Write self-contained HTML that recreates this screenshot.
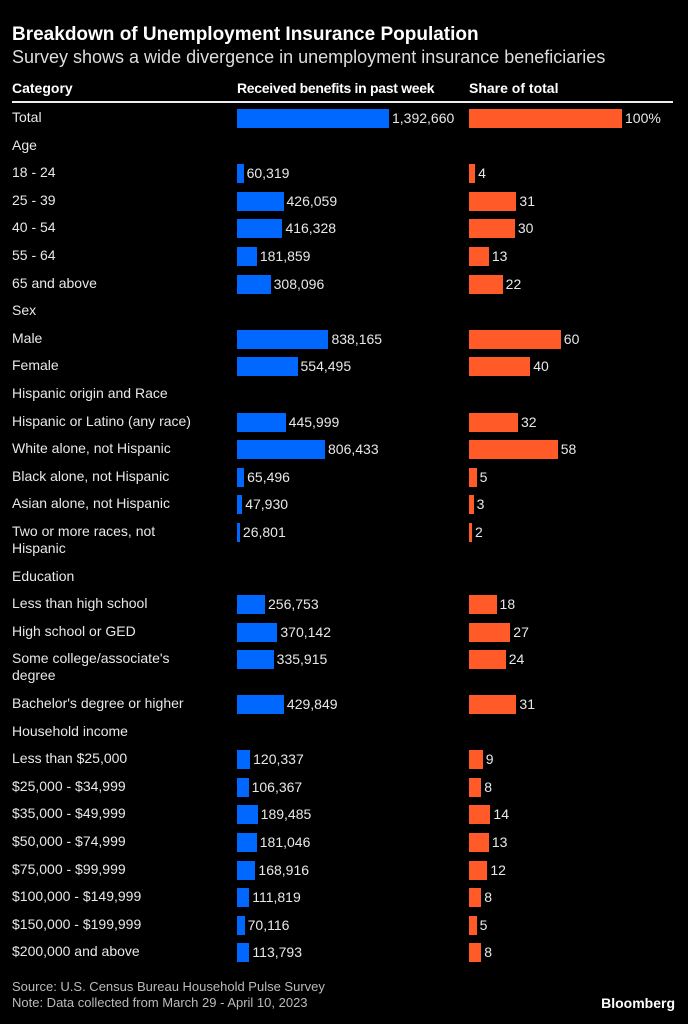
<!DOCTYPE html>
<html><head><meta charset="utf-8"><style>
body{margin:0;background:#000;width:688px;height:1024px;overflow:hidden;font-family:"Liberation Sans",sans-serif;color:#e8e8e8;position:relative}
.a{position:absolute;white-space:nowrap}
.t{font-size:14px;line-height:17px}
</style></head><body>
<div class="a" style="left:12px;top:24px;font-size:19px;font-weight:bold;color:#fff">Breakdown of Unemployment Insurance Population</div>
<div class="a" style="left:12px;top:47px;font-size:18px;color:#ddd">Survey shows a wide divergence in unemployment insurance beneficiaries</div>
<div class="a t" style="left:12px;top:80px;font-weight:bold;color:#fff">Category</div>
<div class="a t" style="left:237px;top:80px;font-weight:bold;color:#fff;letter-spacing:-0.3px">Received benefits in past week</div>
<div class="a t" style="left:469px;top:80px;font-weight:bold;color:#fff">Share of total</div>
<div class="a" style="left:12px;top:101px;width:661px;height:2px;background:#eee"></div>
<div id="rows"></div>
<div class="a" style="left:12px;top:979px;font-size:13px;line-height:16px;color:#bbb">Source: U.S. Census Bureau Household Pulse Survey<br>Note: Data collected from March 29 - April 10, 2023</div>
<div class="a" style="right:13px;top:995px;font-size:14px;font-weight:bold;color:#fff">Bloomberg</div>
<script>
const categories=["Total","Age","18 - 24","25 - 39","40 - 54","55 - 64","65 and above","Sex","Male","Female","Hispanic origin and Race","Hispanic or Latino (any race)","White alone, not Hispanic","Black alone, not Hispanic","Asian alone, not Hispanic","Two or more races, not|Hispanic","Education","Less than high school","High school or GED","Some college/associate's|degree","Bachelor's degree or higher","Household income","Less than $25,000","$25,000 - $34,999","$35,000 - $49,999","$50,000 - $74,999","$75,000 - $99,999","$100,000 - $149,999","$150,000 - $199,999","$200,000 and above"];
const benefits=[1392660,null,60319,426059,416328,181859,308096,null,838165,554495,null,445999,806433,65496,47930,26801,null,256753,370142,335915,429849,null,120337,106367,189485,181046,168916,111819,70116,113793];
const shares=[100,null,4,31,30,13,22,null,60,40,null,32,58,5,3,2,null,18,27,24,31,null,9,8,14,13,12,8,5,8];
const bx=v=>v/1392660*152, sx=v=>v/100*153;
const root=document.getElementById('rows');
let y=118;
categories.forEach((c,i)=>{
  const lines=c.split('|');
  const lab=document.createElement('div');lab.className='a t';
  lab.style.left='12px';lab.style.top=(y-9)+'px';lab.innerHTML=lines.join('<br>');
  
  
  root.appendChild(lab);
  if(benefits[i]!=null){
    const w=bx(benefits[i]);
    const b=document.createElement('div');b.className='a';
    b.style.cssText=`left:237px;top:${y-9}px;width:${w}px;height:19px;background:#0068ff`;
    
    
    root.appendChild(b);
    const t=document.createElement('div');t.className='a t';
    t.style.cssText=`left:${237+w+3}px;top:${y-8}px`;t.textContent=benefits[i].toLocaleString('en-US');
    
    
    root.appendChild(t);
    const sw=sx(shares[i]);
    const s=document.createElement('div');s.className='a';
    s.style.cssText=`left:469px;top:${y-9}px;width:${sw}px;height:19px;background:#ff5a28`;
    
    
    root.appendChild(s);
    const st=document.createElement('div');st.className='a t';
    st.style.cssText=`left:${469+sw+3}px;top:${y-8}px`;st.textContent=shares[i]+(i===0?'%':'');
    
    
    root.appendChild(st);
  }
  y+=27.6+(lines.length>1?17:0);
});
</script>
</body></html>
